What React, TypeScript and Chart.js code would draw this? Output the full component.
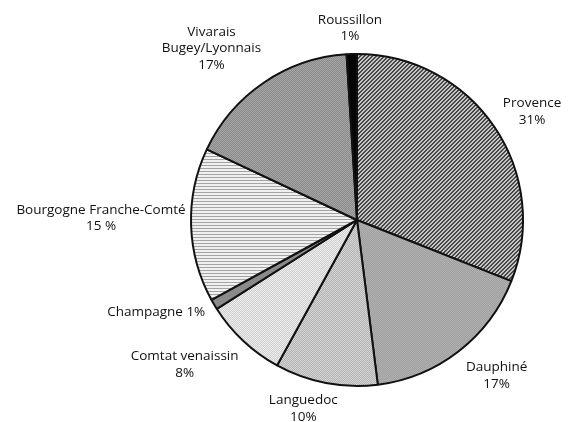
import React, { useEffect, useRef } from "react";
import { Chart, registerables } from "chart.js";

Chart.register(...registerables);

const regions = [
  "Provence",
  "Dauphiné",
  "Languedoc",
  "Comtat venaissin",
  "Champagne",
  "Bourgogne Franche-Comté",
  "Vivarais Bugey/Lyonnais",
  "Roussillon",
];
const shares = [31, 17, 10, 8, 1, 15, 17, 1];
const labelLines = [
  ["Provence", "31%"],
  ["Dauphiné", "17%"],
  ["Languedoc", "10%"],
  ["Comtat venaissin", "8%"],
  ["Champagne 1%"],
  ["Bourgogne Franche-Comté", "15 %"],
  ["Vivarais", "Bugey/Lyonnais", "17%"],
  ["Roussillon", "1%"],
];
// label placement: extra distance beyond radius (px) and angle nudge (deg)
const labelDist = [40, 43, 30, 59, 55, 90, 59, 26];
const labelNudge = [2.4, -4.1, 5.1, 6.8, 5.9, 2.2, -6.1, -0.3];

function makePattern(
  w: number,
  h: number,
  draw: (ctx: CanvasRenderingContext2D) => void
): CanvasPattern | string {
  const c = document.createElement("canvas");
  c.width = w;
  c.height = h;
  const ctx = c.getContext("2d");
  if (!ctx) return "#999";
  draw(ctx);
  return ctx.createPattern(c, "repeat") || "#999";
}

function checker(a: string, b: string, s: number) {
  return makePattern(s * 2, s * 2, (ctx) => {
    ctx.fillStyle = a;
    ctx.fillRect(0, 0, s * 2, s * 2);
    ctx.fillStyle = b;
    ctx.fillRect(0, 0, s, s);
    ctx.fillRect(s, s, s, s);
  });
}

const labelPlugin = {
  id: "outerLabels",
  afterDraw(chart: any) {
    const ctx = chart.ctx;
    const meta = chart.getDatasetMeta(0);
    ctx.save();
    ctx.font = "500 13.5px 'Open Sans', sans-serif";
    ctx.fillStyle = "#111";
    ctx.textAlign = "center";
    ctx.textBaseline = "middle";
    meta.data.forEach((arc: any, i: number) => {
      const p = arc.getProps(["x", "y", "startAngle", "endAngle", "outerRadius"], true);
      const mid = (p.startAngle + p.endAngle) / 2 + (labelNudge[i] * Math.PI) / 180;
      const d = p.outerRadius + labelDist[i];
      const cx = p.x + Math.cos(mid) * d;
      const cy = p.y + Math.sin(mid) * d;
      const lines = labelLines[i];
      const lh = 16.5;
      const top = cy - ((lines.length - 1) * lh) / 2;
      lines.forEach((t, j) => ctx.fillText(t, cx, top + j * lh));
    });
    ctx.restore();
  },
};

export default function App() {
  const ref = useRef<HTMLCanvasElement | null>(null);
  useEffect(() => {
    document.body.style.margin = "0";
    if (!ref.current) return;
    const provence = makePattern(4, 4, (ctx) => {
      ctx.fillStyle = "#c4c4c4";
      ctx.fillRect(0, 0, 4, 4);
      ctx.fillStyle = "#484848";
      for (let k = 0; k < 4; k++) {
        ctx.fillRect(3 - k, k, 1, 1);
        ctx.fillRect((4 - k) % 4, k, 1, 1);
      }
    });
    const bourgogne = makePattern(3, 3, (ctx) => {
      ctx.fillStyle = "#f0f0f0";
      ctx.fillRect(0, 0, 3, 3);
      ctx.fillStyle = "#a4a4a4";
      ctx.fillRect(0, 0, 3, 1);
    });
    const colors = [
      provence,
      checker("#a0a0a0", "#b0b0b0", 1),
      checker("#b4b4b4", "#d4d4d4", 1),
      checker("#d0d0d0", "#ececec", 1),
      "#8a8a8a",
      bourgogne,
      checker("#8c8c8c", "#a4a4a4", 1),
      "#050505",
    ];
    const chart = new Chart(ref.current, {
      type: "pie",
      data: {
        labels: regions,
        datasets: [
          {
            data: shares,
            backgroundColor: colors as any,
            borderColor: "#111",
            borderWidth: 2,
            borderAlign: "center",
          },
        ],
      },
      options: {
        animation: false,
        responsive: false,
        rotation: 0,
        layout: { padding: { left: 190, right: 46, top: 53, bottom: 35 } },
        plugins: {
          legend: { display: false },
          tooltip: { enabled: false },
        },
      },
      plugins: [labelPlugin],
    });
    return () => chart.destroy();
  }, []);
  return (
    <div style={{ width: 570, height: 422, background: "#fff" }}>
      <canvas ref={ref} width={570} height={422} />
    </div>
  );
}
